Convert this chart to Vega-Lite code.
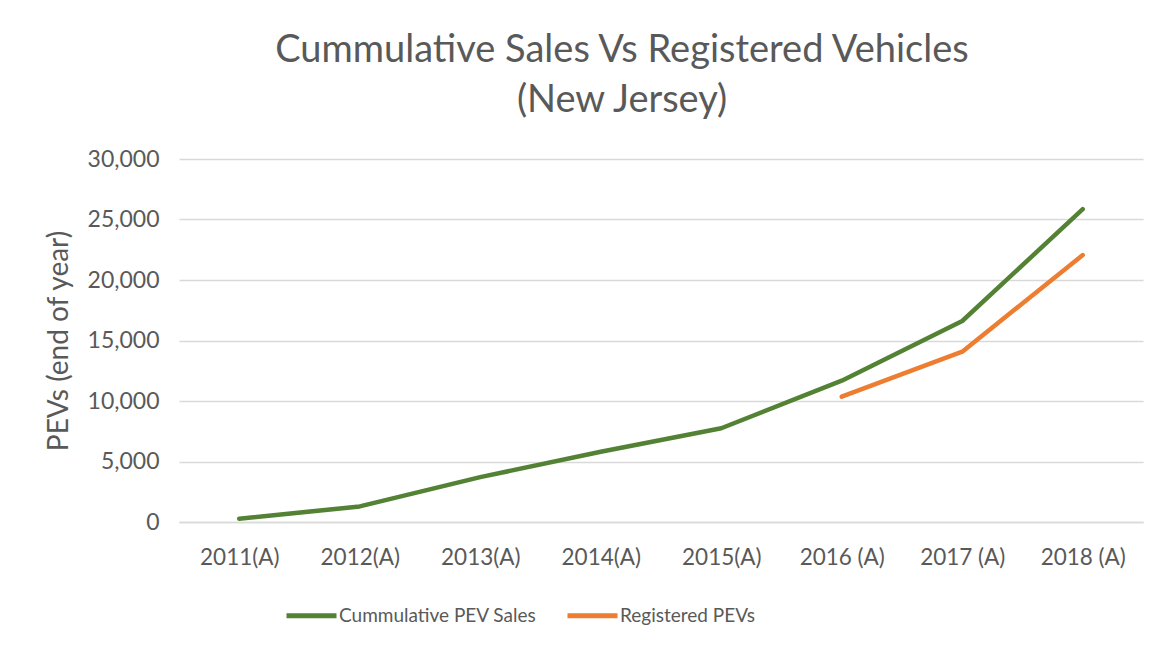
{
  "$schema": "https://vega.github.io/schema/vega-lite/v6.json",
  "width": 964,
  "height": 363,
  "padding": {"left": 45, "top": 32, "right": 20, "bottom": 10},
  "background": "white",
  "title": {
    "text": ["Cummulative Sales Vs Registered Vehicles", "(New Jersey)"],
    "font": "Lato",
    "fontSize": 38,
    "fontWeight": "normal",
    "color": "#595959",
    "lineHeight": 50,
    "anchor": "middle",
    "frame": "group",
    "dx": -39,
    "offset": 28
  },
  "data": {
    "values": [
      {"year": "2011(A)", "series": "Cummulative PEV Sales", "value": 270},
      {"year": "2012(A)", "series": "Cummulative PEV Sales", "value": 1290},
      {"year": "2013(A)", "series": "Cummulative PEV Sales", "value": 3710},
      {"year": "2014(A)", "series": "Cummulative PEV Sales", "value": 5800},
      {"year": "2015(A)", "series": "Cummulative PEV Sales", "value": 7750},
      {"year": "2016 (A)", "series": "Cummulative PEV Sales", "value": 11680},
      {"year": "2017 (A)", "series": "Cummulative PEV Sales", "value": 16610},
      {"year": "2018 (A)", "series": "Cummulative PEV Sales", "value": 25850},
      {"year": "2016 (A)", "series": "Registered PEVs", "value": 10360},
      {"year": "2017 (A)", "series": "Registered PEVs", "value": 14080},
      {"year": "2018 (A)", "series": "Registered PEVs", "value": 22060}
    ]
  },
  "mark": {"type": "line", "strokeWidth": 4.5, "strokeCap": "round", "strokeJoin": "round"},
  "encoding": {
    "x": {
      "field": "year",
      "type": "ordinal",
      "sort": null,
      "scale": {"type": "point", "padding": 0.5},
      "axis": {
        "title": null,
        "labelAngle": 0,
        "labelFont": "Lato",
        "labelFontSize": 22.5,
        "labelColor": "#595959",
        "labelPadding": 24,
        "ticks": false,
        "domainColor": "#d9d9d9",
        "domainWidth": 1.5,
        "grid": false
      }
    },
    "y": {
      "field": "value",
      "type": "quantitative",
      "scale": {"domain": [0, 30000]},
      "axis": {
        "title": "PEVs (end of year)",
        "titleFont": "Lato",
        "titleFontSize": 28,
        "titleFontWeight": "normal",
        "titleColor": "#595959",
        "titlePadding": 14,
        "values": [0, 5000, 10000, 15000, 20000, 25000, 30000],
        "format": ",d",
        "labelFont": "Lato",
        "labelFontSize": 23,
        "labelColor": "#595959",
        "labelPadding": 20,
        "ticks": false,
        "domain": false,
        "gridColor": "#d9d9d9",
        "gridWidth": 1.5
      }
    },
    "color": {
      "field": "series",
      "type": "nominal",
      "scale": {"domain": ["Cummulative PEV Sales", "Registered PEVs"], "range": ["#548235", "#ED7D31"]},
      "legend": {
        "title": null,
        "orient": "none",
        "legendX": 105,
        "legendY": 429,
        "direction": "horizontal",
        "symbolType": "stroke",
        "symbolStrokeWidth": 5,
        "symbolSize": 2500,
        "labelFont": "Lato",
        "labelFontSize": 19,
        "labelColor": "#595959",
        "labelOffset": 0,
        "labelLimit": 400,
        "columnPadding": 20
      }
    }
  },
  "config": {"view": {"stroke": null}}
}
